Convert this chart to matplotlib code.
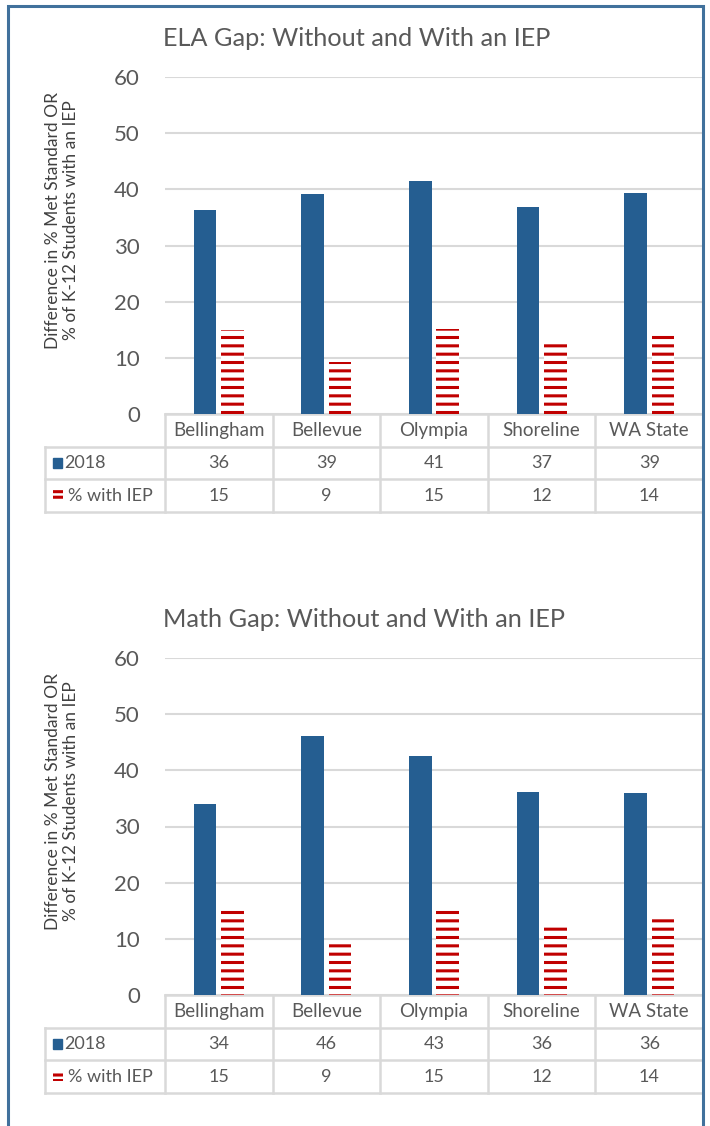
import numpy as np
import matplotlib
matplotlib.use("Agg")
import matplotlib.pyplot as plt
from matplotlib.patches import Rectangle
from matplotlib.lines import Line2D

plt.rcParams['font.family'] = ['Lato', 'DejaVu Sans']
plt.rcParams['hatch.linewidth'] = 2.2

## data
districts = ['Bellingham', 'Bellevue', 'Olympia', 'Shoreline', 'WA State']
ela_2018 = [36.3, 39.1, 41.4, 36.9, 39.3]
ela_iep = [14.9, 9.3, 15.2, 12.4, 14.2]
math_2018 = [34.0, 46.1, 42.6, 36.1, 35.9]
math_iep = [15.1, 9.4, 15.1, 12.3, 13.7]
series_names = ['2018', '% with IEP']
yticks = [0, 10, 20, 30, 40, 50, 60]

blue = '#255e91'
red = '#c00000'
grid = '#d9d9d9'
txt = '#595959'

fig = plt.figure(figsize=(7.10, 11.26), dpi=100)

# blue frame around everything
fig.add_artist(Rectangle((8/710, -0.1), 695/710, 1.1 - 6/1126, transform=fig.transFigure,
                         fill=False, edgecolor='#41719c', linewidth=2.2))


def draw_panel(ax, title, vals_a, vals_b):
    x = np.arange(len(districts))
    w = 0.21
    ax.bar(x - 0.128, vals_a, width=w, color=blue, zorder=3)
    ax.bar(x + 0.128, vals_b, width=w, facecolor='white', edgecolor=red,
           hatch='--', linewidth=0, zorder=3)
    ax.set_xlim(-0.5, len(districts) - 0.5)
    ax.set_ylim(0, 60)
    ax.set_yticks(yticks)
    ax.tick_params(axis='y', length=0, pad=18, labelsize=16, labelcolor=txt)
    ax.set_xticks([])
    for s in ax.spines.values():
        s.set_visible(False)
    ax.grid(axis='y', color=grid, linewidth=1.5, zorder=0)
    ax.set_axisbelow(True)
    ax.set_title(title, fontsize=18.2, color=txt, loc='left', x=-0.003, pad=22)
    ax.set_ylabel('Difference in % Met Standard OR\n% of K-12 Students with an IEP',
                  fontsize=12.5, color='#404040', linespacing=1.15)
    ax.yaxis.set_label_coords(-0.160, 0.574)

    # data table under the axes
    tr = ax.transAxes
    n = len(districts)
    rows = [0, -0.098, -0.193, -0.291]
    lab_left = -0.223
    kw = dict(transform=tr, color=grid, linewidth=1.8, clip_on=False)
    ax.add_line(Line2D([0, 1], [rows[0], rows[0]], **kw))
    for r in rows[1:]:
        ax.add_line(Line2D([lab_left, 1], [r, r], **kw))
    for i in range(n + 1):
        ax.add_line(Line2D([i / n, i / n], [rows[0], rows[-1]], **kw))
    ax.add_line(Line2D([lab_left, lab_left], [rows[1], rows[-1]], **kw))
    for i, d in enumerate(districts):
        xc = (i + 0.5) / n
        ax.text(xc, (rows[0] + rows[1]) / 2, d, transform=tr, ha='center', va='center',
                fontsize=13.5, color=txt)
        ax.text(xc, (rows[1] + rows[2]) / 2, f'{vals_a[i]:.0f}', transform=tr,
                ha='center', va='center', fontsize=13, color=txt)
        ax.text(xc, (rows[2] + rows[3]) / 2, f'{vals_b[i]:.0f}', transform=tr,
                ha='center', va='center', fontsize=13, color=txt)
    # legend keys in the row labels
    ax.add_patch(Rectangle((-0.209, (rows[1] + rows[2]) / 2 - 0.014), 0.017, 0.029,
                           transform=tr, color=blue, clip_on=False))
    ax.add_patch(Rectangle((-0.209, (rows[2] + rows[3]) / 2 - 0.014), 0.019, 0.029,
                           transform=tr, facecolor='white', edgecolor=red, hatch='---',
                           linewidth=0, clip_on=False))
    ax.text(-0.187, (rows[1] + rows[2]) / 2, series_names[0], transform=tr, ha='left',
            va='center', fontsize=13, color=txt)
    ax.text(-0.180, (rows[2] + rows[3]) / 2, series_names[1], transform=tr, ha='left',
            va='center', fontsize=13, color=txt)


ax1 = fig.add_axes([165/710, 1 - 414/1126, 538/710, 337/1126])
draw_panel(ax1, 'ELA Gap: Without and With an IEP', ela_2018, ela_iep)
ax2 = fig.add_axes([165/710, 1 - 995/1126, 538/710, 337/1126])
draw_panel(ax2, 'Math Gap: Without and With an IEP', math_2018, math_iep)

fig.savefig('out.png', dpi=100)
